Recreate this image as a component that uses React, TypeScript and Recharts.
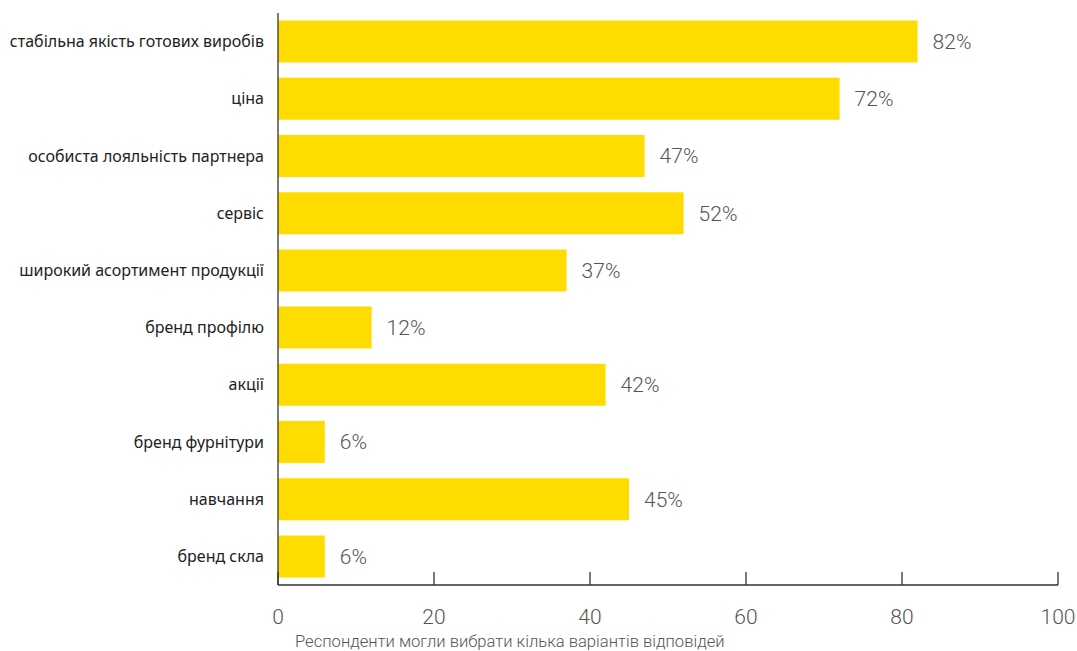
import { Bar, BarChart, XAxis, YAxis, LabelList } from "recharts";

const categories = [
    "стабільна якість готових виробів",
    "ціна",
    "особиста лояльність партнера",
    "сервіс",
    "широкий асортимент продукції",
    "бренд профілю",
    "акції",
    "бренд фурнітури",
    "навчання",
    "бренд скла",
];
const shares = [82, 72, 47, 52, 37, 12, 42, 6, 45, 6];
const xTicks = [0, 20, 40, 60, 80, 100];
const note = "Респонденти могли вибрати кілька варіантів відповідей";

const data = categories.map((name, i) => ({ name, value: shares[i] }));

const numFont = "Roboto, sans-serif";

function XTick(props: any) {
    const { x, y, payload } = props;
    return (
        <g>
            <line x1={x} x2={x} y1={y} y2={y - 13} stroke="#333" strokeWidth={1.3} />
            <text x={x} y={y + 39} textAnchor="middle" fontFamily={numFont} fontWeight={300} fontSize={21} fill="#555">
                {payload.value}
            </text>
        </g>
    );
}

function NoteLabel(props: any) {
    const { viewBox } = props;
    return (
        <text x={viewBox.x + 17} y={viewBox.y + 62} fontFamily={numFont} fontWeight={300} fontSize={16.6} fill="#555">
            {note}
        </text>
    );
}

export default function App() {
    return (
        <div style={{ position: "absolute", left: 0, top: 0, width: 1077, height: 651, background: "#fff", overflow: "hidden" }}>
            <BarChart
                width={1077}
                height={651}
                data={data}
                layout="vertical"
                margin={{ top: 13, right: 19, left: 8, bottom: 0 }}
                barCategoryGap={7.6}
                style={{ overflow: "visible" }}
            >
                <XAxis
                    type="number"
                    domain={[0, 100]}
                    ticks={xTicks}
                    tick={<XTick />}
                    tickLine={false}
                    tickSize={0}
                    tickMargin={0}
                    height={66}
                    axisLine={{ stroke: "#333", strokeWidth: 1.3 }}
                    label={<NoteLabel />}
                />
                <YAxis
                    type="category"
                    dataKey="name"
                    width={270}
                    tickLine={false}
                    tickSize={0}
                    tickMargin={14}
                    axisLine={{ stroke: "#333", strokeWidth: 1.3 }}
                    tick={{ fontSize: 16, fill: "#222", fontFamily: "'Noto Sans', sans-serif" }}
                    interval={0}
                />
                <Bar dataKey="value" fill="#FFDC00" isAnimationActive={false}>
                    <LabelList
                        dataKey="value"
                        position="right"
                        offset={15}
                        formatter={(v: any) => `${v}%`}
                        style={{ fontFamily: numFont, fontWeight: 300, fontSize: 21, fill: "#555" }}
                    />
                </Bar>
            </BarChart>
        </div>
    );
}
